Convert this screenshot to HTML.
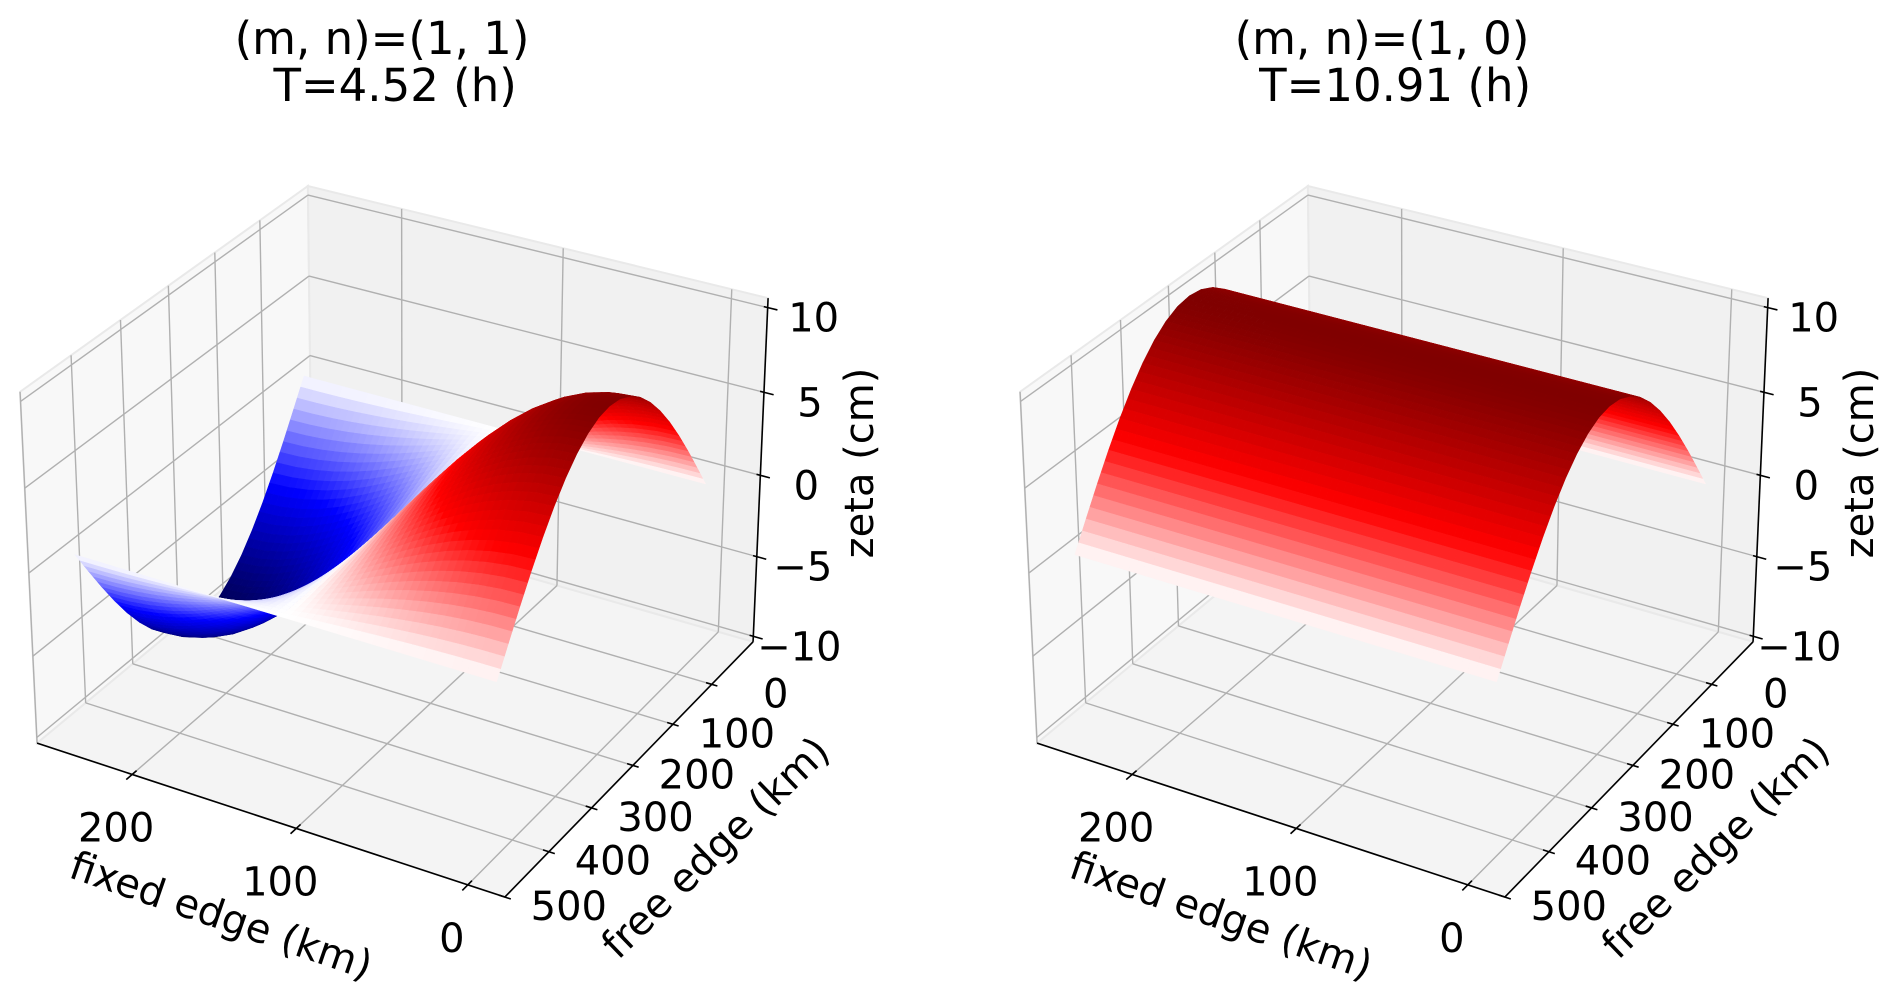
<!DOCTYPE html>
<html>
<head>
<meta charset="utf-8">
<style>
html,body{margin:0;padding:0;background:#fff;}
svg{display:block;}
text{font-family:"DejaVu Sans","Liberation Sans",sans-serif;fill:#000;}
</style>
</head>
<body>
<svg id="fig" width="1892" height="1000" viewBox="0 0 1892 1000" xmlns="http://www.w3.org/2000/svg">
  <rect x="0" y="0" width="1892" height="1000" fill="#fff"/>
  <g id="panel-left"></g>
  <g id="panel-right"></g>
</svg>
<script>
// ---------------- data ----------------
const xKm = [0,12.5,25,37.5,50,62.5,75,87.5,100,112.5,125,137.5,150,162.5,175,187.5,200,212.5,225,237.5,250];
const yKm = [-60,-35,-10,15,40,65,90,115,140,165,190,215,240,265,290,315,340,365,390,415,440];
const xProfileMode11 = [1,0.988,0.951,0.891,0.809,0.707,0.588,0.454,0.309,0.156,0,-0.156,-0.309,-0.454,-0.588,-0.707,-0.809,-0.891,-0.951,-0.988,-1];
const xProfileMode10 = [1,1,1,1,1,1,1,1,1,1,1,1,1,1,1,1,1,1,1,1,1];
const yProfile = [0,0.156,0.309,0.454,0.588,0.707,0.809,0.891,0.951,0.988,1,0.988,0.951,0.891,0.809,0.707,0.588,0.454,0.309,0.156,0];
const amplitudeCm = [10,10];
const titleLines1 = ["(m, n)=(1, 1)", "\u00a0T=4.52 (h)"];
const titleLines2 = ["(m, n)=(1, 0)", "\u00a0T=10.91 (h)"];
const xTicks = [0,100,200];
const yTicks = [0,100,200,300,400,500];
const zTicks = [-10,-5,0,5,10];

// ---------------- axes geometry ----------------
const LIM = {xmin:-21,xmax:260,ymin:-110,ymax:500,zmin:-10.35,zmax:10.55};
const calib = [
  [1,1,1,20,392],[1,1,0,37,743],[0,1,0,505,897],
  [0,0,0,753,642],[0,0,1,768,298],[1,0,1,308,186]
];
function solveDLT(pts){
  const A=[],b=[];
  pts.forEach(p=>{
    const [ux,uy,uz,X,Y]=p;
    A.push([ux,uy,uz,1,0,0,0,0,-X*ux,-X*uy,-X*uz]); b.push(X);
    A.push([0,0,0,0,ux,uy,uz,1,-Y*ux,-Y*uy,-Y*uz]); b.push(Y);
  });
  const n=11, N=[], r=[];
  for(let i=0;i<n;i++){N.push(new Array(n).fill(0)); r.push(0);}
  for(let k=0;k<A.length;k++){
    for(let i=0;i<n;i++){ r[i]+=A[k][i]*b[k]; for(let j=0;j<n;j++) N[i][j]+=A[k][i]*A[k][j]; }
  }
  for(let c=0;c<n;c++){
    let piv=c; for(let i=c+1;i<n;i++) if(Math.abs(N[i][c])>Math.abs(N[piv][c])) piv=i;
    [N[c],N[piv]]=[N[piv],N[c]]; [r[c],r[piv]]=[r[piv],r[c]];
    for(let i=0;i<n;i++){ if(i===c) continue; const f=N[i][c]/N[c][c];
      for(let j=c;j<n;j++) N[i][j]-=f*N[c][j]; r[i]-=f*r[c]; }
  }
  return r.map((v,i)=>v/N[i][i]);
}
const M = solveDLT(calib);
function projU(ux,uy,uz,dx){
  const den=M[8]*ux+M[9]*uy+M[10]*uz+1;
  return [(M[0]*ux+M[1]*uy+M[2]*uz+M[3])/den+dx,(M[4]*ux+M[5]*uy+M[6]*uz+M[7])/den,den];
}
function ux(x){return (x-LIM.xmin)/(LIM.xmax-LIM.xmin);}
function uy(y){return (y-LIM.ymin)/(LIM.ymax-LIM.ymin);}
function uz(z){return (z-LIM.zmin)/(LIM.zmax-LIM.zmin);}
function P(x,y,z,dx){return projU(ux(x),uy(y),uz(z),dx);}
const farSign = (projU(1,0,1,0)[2] > projU(0,1,0,0)[2]) ? 1 : -1;

// seismic colormap
const seis=[[0,0,0,0.3],[0.25,0,0,1],[0.5,1,1,1],[0.75,1,0,0],[1,0.5,0,0]];
function seismic(t){
  t=Math.max(0,Math.min(1,t));
  for(let i=0;i<seis.length-1;i++){
    const a=seis[i],b=seis[i+1];
    if(t<=b[0]){const f=(t-a[0])/(b[0]-a[0]);
      return 'rgb('+[1,2,3].map(k=>Math.round(255*(a[k]+f*(b[k]-a[k])))).join(',')+')';}
  }
  return 'rgb(128,0,0)';
}

const NS='http://www.w3.org/2000/svg';
function mk(tag,attrs,parent){
  const e=document.createElementNS(NS,tag);
  for(const k in attrs) e.setAttribute(k,attrs[k]);
  parent.appendChild(e); return e;
}
function ptsStr(arr){return arr.map(p=>p[0].toFixed(2)+','+p[1].toFixed(2)).join(' ');}

function drawPanel(g,dx,xProfile,amp,title){
  const panes=[
    {n:'pane-left',c:[[1,0,0],[1,1,0],[1,1,1],[1,0,1]],f:'#f8f8f8'},
    {n:'pane-back',c:[[0,0,0],[1,0,0],[1,0,1],[0,0,1]],f:'#f1f1f1'},
    {n:'pane-floor',c:[[0,0,0],[1,0,0],[1,1,0],[0,1,0]],f:'#f4f4f4'}
  ];
  panes.forEach(p=>{
    const el=mk('polygon',{points:ptsStr(p.c.map(c=>projU(c[0],c[1],c[2],dx))),fill:p.f,stroke:'#e9e9e9','stroke-width':2},g);
    
    
  });
  const gg=mk('g',{stroke:'#b0b0b0','stroke-width':1.4,fill:'none'},g);
  
  
  function line(a,b,name){
    const e=mk('line',{x1:a[0],y1:a[1],x2:b[0],y2:b[1]},gg);
    
    
  }
  xTicks.forEach(x=>{
    line(projU(ux(x),0,0,dx),projU(ux(x),1,0,dx),'grid-floor-x');
    line(projU(ux(x),0,0,dx),projU(ux(x),0,1,dx),'grid-back-x');
  });
  yTicks.forEach(y=>{
    line(projU(0,uy(y),0,dx),projU(1,uy(y),0,dx),'grid-floor-y');
    line(projU(1,uy(y),0,dx),projU(1,uy(y),1,dx),'grid-left-y');
  });
  zTicks.forEach(z=>{
    line(projU(0,0,uz(z),dx),projU(1,0,uz(z),dx),'grid-back-z');
    line(projU(1,0,uz(z),dx),projU(1,1,uz(z),dx),'grid-left-z');
  });
  const ag=mk('g',{stroke:'#000','stroke-width':1.6,fill:'none'},g);
  
  
  function aline(a,b,name){
    const e=mk('line',{x1:a[0],y1:a[1],x2:b[0],y2:b[1]},ag);
    
    
  }
  aline(projU(0,1,0,dx),projU(1,1,0,dx),'x-axis-line');
  aline(projU(0,0,0,dx),projU(0,1,0,dx),'y-axis-line');
  aline(projU(0,0,0,dx),projU(0,0,1,dx),'z-axis-line');
  const tg=mk('g',{'font-size':40},g);
  
  
  function lab(txt,x,y,name){
    const t=mk('text',{x:x,y:y,'text-anchor':'middle','dominant-baseline':'central'},tg);
    t.textContent=txt;
    
    
  }
  function fmt(v){return v<0?'\u2212'+Math.abs(v):String(v);}
  xTicks.forEach(x=>{
    aline(projU(ux(x),0.985,0,dx),projU(ux(x),1.02,0,dx),'x-tick');
    const p=projU(ux(x),1,0,dx);
    lab(fmt(x),p[0]-16,p[1]+54,'x-tick-label');
  });
  yTicks.forEach(y=>{
    aline(projU(0.012,uy(y),0,dx),projU(-0.012,uy(y),0,dx),'y-tick');
    const p=projU(0,uy(y),0,dx);
    lab(fmt(y),p[0]+64,p[1]+10,'y-tick-label');
  });
  zTicks.forEach(z=>{
    aline(projU(0.008,0,uz(z),dx),projU(-0.02,0,uz(z),dx),'z-tick');
    const p=projU(0,0,uz(z),dx);
    lab(fmt(z),p[0]+46,p[1]+11,'z-tick-label');
  });
  function atitle(txt,x,y,rot,name){
    const t=mk('text',{x:x+dx,y:y,'text-anchor':'middle','dominant-baseline':'central','font-size':40,transform:'rotate('+rot+' '+(x+dx)+' '+y+')'},g);
    t.textContent=txt;
    
    
  }
  atitle('fixed edge (km)',221,916,19,'x-axis-title');
  atitle('free edge (km)',716,848,-44,'y-axis-title');
  atitle('zeta (cm)',860,463,-90,'z-axis-title');
  const t1=mk('text',{x:382+dx,y:54,'text-anchor':'middle','font-size':45},g);
  t1.textContent=title[0];
  
  
  const t2=mk('text',{x:388+dx,y:101,'text-anchor':'middle','font-size':45},g);
  t2.textContent=title[1];
  
  

  const sg=mk('g',{},g);
  
  
  const S=3, facets=[];
  const zAt=(i,j)=>amp*xProfile[i]*yProfile[j];
  for(let i=0;i<xKm.length-1;i++){
    for(let j=0;j<yKm.length-1;j++){
      for(let a=0;a<S;a++){
        for(let b=0;b<S;b++){
          const corners=[[a,b],[a+1,b],[a+1,b+1],[a,b+1]].map(([p,q])=>{
            const fx=p/S, fy=q/S;
            const x=xKm[i]+fx*(xKm[i+1]-xKm[i]);
            const y=yKm[j]+fy*(yKm[j+1]-yKm[j]);
            const z=(1-fx)*(1-fy)*zAt(i,j)+fx*(1-fy)*zAt(i+1,j)+fx*fy*zAt(i+1,j+1)+(1-fx)*fy*zAt(i,j+1);
            return [x,y,z];
          });
          const pr=corners.map(c=>P(c[0],c[1],c[2],dx));
          const zav=corners.reduce((s,c)=>s+c[2],0)/4;
          const dep=pr.reduce((s,c)=>s+c[2],0)/4*farSign;
          facets.push({pr:pr,col:seismic((zav+10)/20),d:dep});
        }
      }
    }
  }
  facets.sort((p,q)=>q.d-p.d);
  facets.forEach(f=>{
    const e=mk('polygon',{points:ptsStr(f.pr),fill:f.col,stroke:f.col,'stroke-width':0.5},sg);
    
    
  });
}
drawPanel(document.getElementById('panel-left'),0,xProfileMode11,amplitudeCm[0],titleLines1);
drawPanel(document.getElementById('panel-right'),1000,xProfileMode10,amplitudeCm[1],titleLines2);
</script>
</body>
</html>
